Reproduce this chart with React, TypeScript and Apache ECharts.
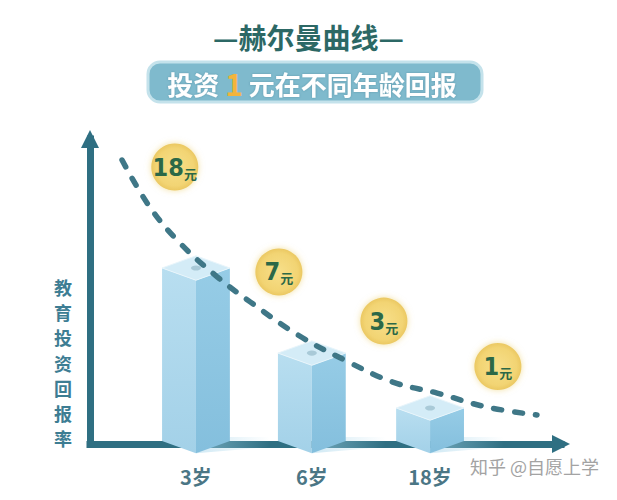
import React, { useEffect, useRef } from "react";
import * as echarts from "echarts";

const ageLabels = ["3岁", "6岁", "18岁"];
const barX = [22.5, 47.1, 72.2];
const barValues = [57.7, 29.8, 11.8];
const coinNumbers = ["18", "7", "3", "1"];
const coinUnit = "元";
const coinX = [18.0, 40.1, 62.4, 86.6];
const coinY = [90.8, 56.4, 40.3, 25.4];
const curveX = [6.8, 12.7, 19.1, 27.0, 34.0, 44.2, 54.1, 64.3, 73.7, 84.3, 94.9];
const curveY = [93.1, 77.7, 65.9, 54.8, 46.6, 35.7, 27.5, 20.3, 16.7, 12.1, 9.5];
const titleText = "—赫尔曼曲线—";
const subtitleParts = ["投资", "1", "元在不同年龄回报"];
const yAxisTitle = "教育投资回报率";
const watermark = "知乎 @自愿上学";

const CJK = '"Noto Sans CJK SC", "Noto Sans", sans-serif';
const NARROW = '"DejaVu Sans Condensed", "Liberation Sans Narrow", "Roboto", sans-serif';
const AXIS_COLOR = "#2f6f82";

export default function App() {
  const ref = useRef<HTMLDivElement>(null);
  useEffect(() => {
    document.body.style.margin = "0";
    const chart = echarts.init(ref.current as HTMLDivElement, null, { renderer: "svg" });
    const barHalf = 7.2;
    const axisLine = {
      show: true,
      onZero: false,
      symbol: ["none", "triangle"],
      symbolSize: [18, 18],
      lineStyle: { color: AXIS_COLOR, width: 7, cap: "square" },
    };
    const option: any = {
      animation: false,
      backgroundColor: "#ffffff",
      title: {
        text: titleText,
        left: "center",
        top: 23,
        padding: 0,
        textStyle: { fontSize: 28, fontWeight: "bold", color: "#2c6865", fontFamily: CJK },
      },
      grid: { left: 90, right: 56, top: 139, bottom: 56 },
      xAxis: {
        type: "value",
        min: 0,
        max: 100,
        axisLine,
        axisTick: { show: false },
        splitLine: { show: false },
        axisLabel: {
          show: true,
          customValues: barX,
          formatter: (v: number) => {
            const i = barX.indexOf(v);
            return i >= 0 ? ageLabels[i] : "";
          },
          margin: 22,
          fontSize: 20,
          fontWeight: "bold",
          color: "#4b7685",
          fontFamily: CJK,
        },
      },
      yAxis: {
        type: "value",
        min: 0,
        max: 100,
        axisLine,
        axisTick: { show: false },
        splitLine: { show: false },
        axisLabel: { show: false },
      },
      graphic: [
        {
          type: "group",
          children: [
            {
              type: "rect",
              shape: { x: 148, y: 62, width: 334, height: 40, r: 12 },
              style: { fill: "#7fbacd", stroke: "#c4e2eb", lineWidth: 3 },
            },
            {
              type: "text",
              style: {
                text: `{w|${subtitleParts[0]}}{o|${subtitleParts[1]}}{w|${subtitleParts[2]}}`,
                x: 312,
                y: 83,
                align: "center",
                verticalAlign: "middle",
                rich: {
                  w: {
                    fontSize: 26,
                    fontWeight: "bold",
                    fill: "#ffffff",
                    fontFamily: CJK,
                    textShadowColor: "rgba(40,90,110,0.35)",
                    textShadowBlur: 2,
                  },
                  o: {
                    fontSize: 30,
                    fontWeight: "bold",
                    fill: "#f3b43a",
                    fontFamily: CJK,
                    padding: [0, 6],
                  },
                },
              },
            },
          ],
        },
        {
          type: "text",
          style: {
            text: yAxisTitle.split("").join("\n"),
            x: 63,
            y: 274,
            align: "center",
            verticalAlign: "top",
            fontSize: 18,
            lineHeight: 25.3,
            fontWeight: "bold",
            fill: "#3d7d93",
            fontFamily: CJK,
          },
        },
        {
          type: "text",
          style: {
            text: watermark,
            x: 470,
            y: 466,
            verticalAlign: "middle",
            fontSize: 18,
            fill: "#a3a3a3",
            fontFamily: CJK,
          },
        },
      ],
      series: [
        {
          type: "custom",
          data: barX.map((x, i) => [x, barValues[i]]),
          z: 3,
          renderItem: (params: any, api: any) => {
            const x = api.value(0);
            const v = api.value(1);
            const top = api.coord([x, v]);
            const base = api.coord([x, 0]);
            const hw = api.size([barHalf, 0])[0];
            const d = hw * 0.36;
            const cx = top[0];
            const yT = top[1];
            const yB = base[1] - 3;
            return {
              type: "group",
              children: [
                {
                  type: "polygon",
                  shape: { points: [[cx + hw, yB - 4], [cx + hw + 40, yB - 4], [cx + hw + 40, yB + 6], [cx, yB + d]] },
                  style: {
                    fill: {
                      type: "linear", x: 0, y: 0, x2: 1, y2: 0,
                      colorStops: [
                        { offset: 0, color: "rgba(170,215,235,0.55)" },
                        { offset: 1, color: "rgba(170,215,235,0)" },
                      ],
                    },
                  },
                },
                {
                  type: "polygon",
                  shape: { points: [[cx - hw, yT], [cx, yT + d], [cx, yB + d], [cx - hw, yB]] },
                  style: {
                    fill: {
                      type: "linear", x: 0, y: 0, x2: 0, y2: 1,
                      colorStops: [
                        { offset: 0, color: "#b8def0" },
                        { offset: 1, color: "#a3d1e8" },
                      ],
                    },
                  },
                },
                {
                  type: "polygon",
                  shape: { points: [[cx, yT + d], [cx + hw, yT], [cx + hw, yB], [cx, yB + d]] },
                  style: {
                    fill: {
                      type: "linear", x: 0, y: 0, x2: 0, y2: 1,
                      colorStops: [
                        { offset: 0, color: "#96cce6" },
                        { offset: 1, color: "#84bfdd" },
                      ],
                    },
                  },
                },
                {
                  type: "polygon",
                  shape: { points: [[cx, yT - d], [cx + hw, yT], [cx, yT + d], [cx - hw, yT]] },
                  style: { fill: "#d4ecf7", stroke: "#e8f5fb", lineWidth: 1 },
                },
                {
                  type: "ellipse",
                  shape: { cx, cy: yT, rx: 5, ry: 2.6 },
                  style: { fill: "#a9cad8" },
                },
              ],
            };
          },
        },
        {
          type: "line",
          data: curveX.map((x, i) => [x, curveY[i]]),
          smooth: 0.4,
          symbol: "none",
          showSymbol: false,
          z: 5,
          lineStyle: { color: "#3f7787", width: 5.5, type: [8, 13], cap: "round" },
        },
        {
          type: "scatter",
          data: coinX.map((x, i) => ({ value: [x, coinY[i]], name: coinNumbers[i] })),
          symbolSize: 47,
          z: 6,
          itemStyle: {
            color: {
              type: "radial", x: 0.5, y: 0.5, r: 0.5,
              colorStops: [
                { offset: 0, color: "#f7df8a" },
                { offset: 0.8, color: "#f2d473" },
                { offset: 1, color: "#ebc862" },
              ],
            },
            opacity: 1,
            shadowBlur: 6,
            shadowColor: "rgba(235,205,100,0.6)",
          },
          label: {
            show: true,
            position: "inside",
            formatter: (p: any) => `{n|${p.name}}{u|${coinUnit}}`,
            rich: {
              n: {
                fontSize: 25,
                fontWeight: "bold",
                color: "#2c6847",
                fontFamily: NARROW,
                lineHeight: 27,
              },
              u: {
                fontSize: 13,
                fontWeight: "bold",
                color: "#2c6847",
                fontFamily: CJK,
                lineHeight: 14,
                verticalAlign: "bottom",
                padding: [0, 0, 1, 0],
              },
            },
          },
        },
      ],
    };
    chart.setOption(option);
    return () => chart.dispose();
  }, []);
  return <div ref={ref} style={{ width: 617, height: 500 }} />;
}
